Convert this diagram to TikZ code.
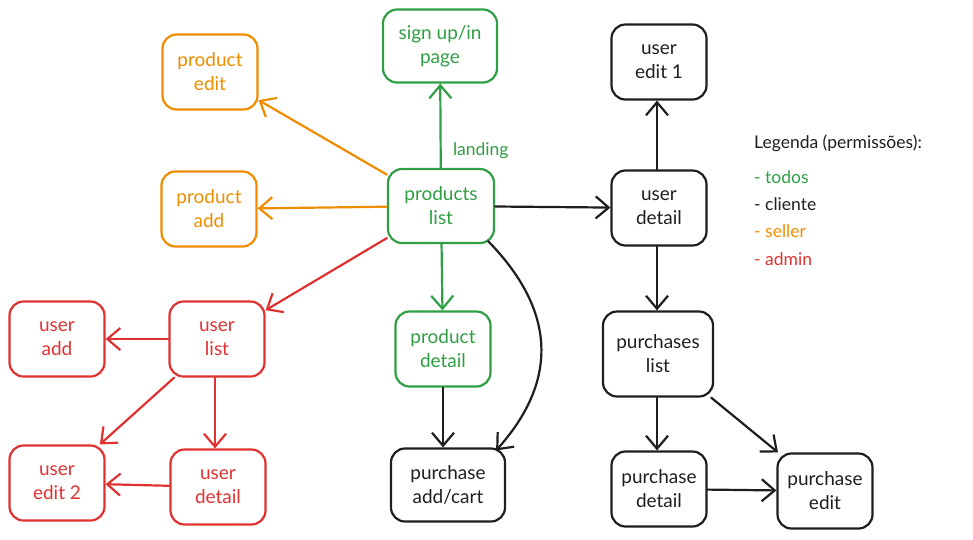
\documentclass[tikz,border=0pt]{standalone}
\usepackage{fontspec}
\setmainfont{Lato}
\usetikzlibrary{arrows.meta,calc}

\definecolor{cgreen}{HTML}{2F9E44}
\definecolor{corange}{HTML}{F08C00}
\definecolor{cred}{HTML}{E03131}
\definecolor{cblack}{HTML}{1E1E1E}

\begin{document}
\begin{tikzpicture}[x=1pt,y=-1pt,
  page/.style={draw, line width=2.2pt, rounded corners=14pt, align=center,
    minimum width=95pt, minimum height=75pt, inner sep=0pt,
    font=\fontsize{19}{24}\selectfont},
  link/.style={line width=2.2pt, line cap=round,
    -{Straight Barb[length=13pt,width=22pt,line width=2.2pt]}},
  legend/.style={anchor=west, inner sep=0pt, font=\fontsize{17.5}{20}\selectfont}
]
\useasboundingbox (0,0) rectangle (973,539);

% everyone (green)
\node[page, cgreen, minimum width=114pt, minimum height=73pt] (signup) at (440,46) {sign up/in\\page};
\node[page, cgreen, minimum width=106pt, minimum height=74pt] (plist) at (441,206) {products\\list};
\node[page, cgreen] (pdetail) at (443,349) {product\\detail};

% seller (orange)
\node[page, corange] (pedit) at (210,72) {product\\edit};
\node[page, corange] (padd) at (209,209) {product\\add};

% admin (red)
\node[page, cred] (uadd) at (57,339) {user\\add};
\node[page, cred] (ulist) at (217,339) {user\\list};
\node[page, cred] (uedit2) at (57,483) {user\\edit 2};
\node[page, cred] (udetailr) at (218,487) {user\\detail};

% client (black)
\node[page, cblack] (uedit1) at (659,62) {user\\edit 1};
\node[page, cblack] (udetail) at (659,208) {user\\detail};
\node[page, cblack, minimum width=110pt, minimum height=85pt] (purlist) at (658,354) {purchases\\list};
\node[page, cblack, minimum width=114pt, minimum height=73pt] (padd2) at (448,485) {purchase\\add/cart};
\node[page, cblack] (pdet) at (659,489) {purchase\\detail};
\node[page, cblack] (pedit2) at (825,491) {purchase\\edit};

% connectors
\draw[link, cgreen] (plist) -- node[pos=0.2, right=8pt, font=\fontsize{17.5}{20}\selectfont] (landing) {landing} (signup);
\draw[link, cgreen] (plist) -- (pdetail);
\draw[link, corange] (plist) -- (pedit);
\draw[link, corange] (plist) -- (padd);
\draw[link, cred] (plist) -- (ulist);
\draw[link, cblack] (plist) -- (udetail);
\draw[link, cblack] (plist.south east) ++(-7,-3) coordinate (cstart)
  .. controls (565,320) and (550,390) .. ($(padd2.north east)+(-10,3)$);
\draw[link, cblack] (pdetail) -- (pdetail |- padd2.north);

\draw[link, cred] (ulist) -- (uadd);
\draw[link, cred] (ulist) -- (uedit2);
\draw[link, cred] (ulist.south -| 215,0) -- (udetailr.north -| 215,0);
\draw[link, cred] (udetailr) -- (uedit2);

\draw[link, cblack] (udetail.north -| 657,0) -- (uedit1.south -| 657,0);
\draw[link, cblack] (udetail.south -| 657,0) -- (purlist.north -| 657,0);
\draw[link, cblack] (purlist.south -| 657,0) -- (pdet.north -| 657,0);
\draw[link, cblack] (purlist) -- (pedit2);
\draw[link, cblack] (pdet) -- (pedit2);

% legend
\node[legend, cblack] (leg) at (754,143) {Legenda (permissões):};
\node[legend, cgreen] (legA) at (754,177) {- todos};
\node[legend, cblack] (legB) at (754,204) {- cliente};
\node[legend, corange] (legC) at (754,231) {- seller};
\node[legend, cred] (legD) at (754,259) {- admin};
\end{tikzpicture}
\end{document}
